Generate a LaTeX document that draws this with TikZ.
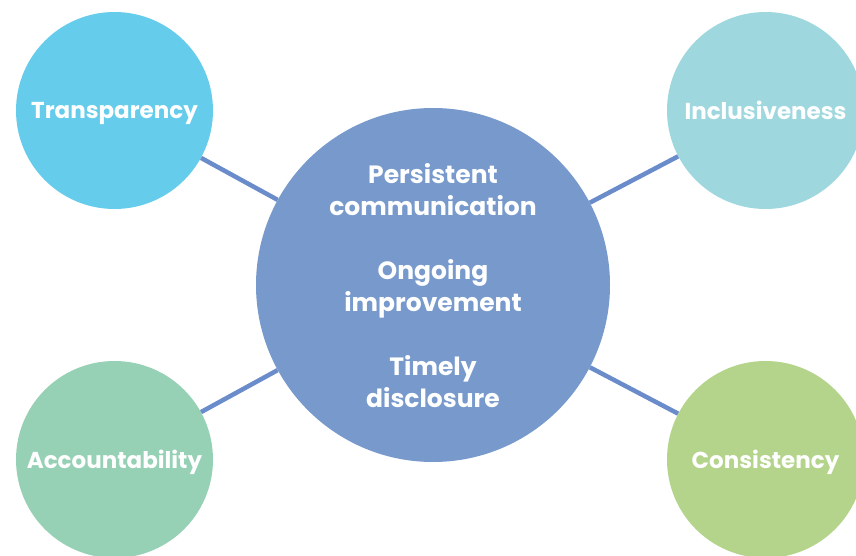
\documentclass[tikz,border=0pt]{standalone}
\usepackage{fontspec}
\setmainfont{Poppins}
\usetikzlibrary{shapes}
\definecolor{hubblue}{HTML}{7799CC}
\definecolor{spokeblue}{HTML}{6A8CCB}
\definecolor{skyblue}{HTML}{66CCEB}
\definecolor{tealblue}{HTML}{9ED8DE}
\definecolor{mintgreen}{HTML}{96D1B5}
\definecolor{limegreen}{HTML}{B3D48A}

\begin{document}
\begin{tikzpicture}[x=1pt, y=-1pt]
		\clip (0,0) rectangle (856,556);
		\tikzstyle{every node} = [circle, inner sep=0pt, text=white, text depth=0pt, font=\bfseries\fontsize{23}{26}\selectfont]
		\node [fill=hubblue, minimum size=354pt, align=center, font=\bfseries\fontsize{25}{32}\selectfont] (c) at (433, 285)
			{Persistent\\communication\\[32pt]Ongoing\\improvement\\[32pt]Timely\\disclosure};
		\node [fill=skyblue, minimum size=197pt] (1) at (114.5, 110.5) {Transparency};
		\node [fill=tealblue, minimum size=197pt] (2) at (765.5, 110.5) {Inclusiveness};
		\node [fill=mintgreen, minimum size=197pt] (3) at (114.5, 459.5) {Accountability};
		\node [fill=limegreen, minimum size=197pt] (4) at (765.5, 459.5) {Consistency};

		\tikzstyle{every path} = [draw=spokeblue, line width=4.5pt]
		\draw [-] (c) -- (1);
		\draw [-] (c) -- (2);
		\draw [-] (c) -- (3);
		\draw [-] (c) -- (4);
\end{tikzpicture}
\end{document}
